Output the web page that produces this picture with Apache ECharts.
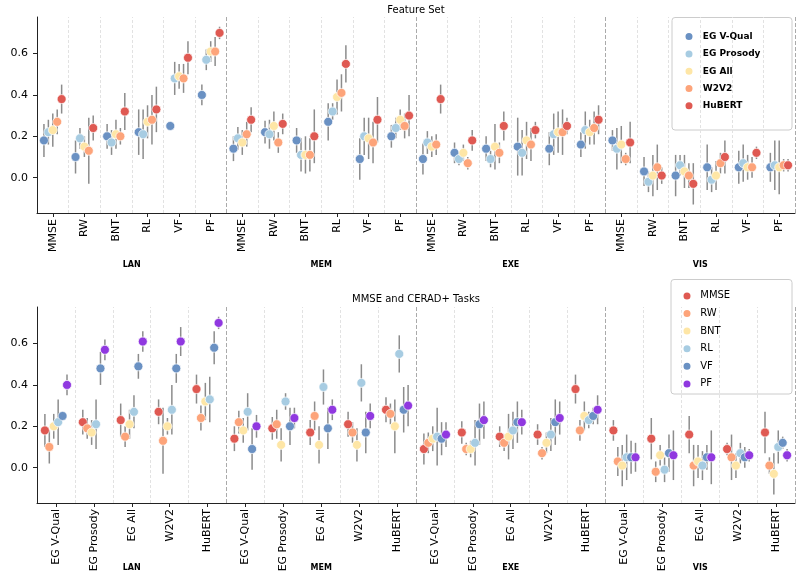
<!DOCTYPE html>
<html><head><meta charset="utf-8">
<script src="https://cdn.jsdelivr.net/npm/echarts@6/dist/echarts.min.js"></script>
<style>html,body{margin:0;padding:0;background:#fff}#c{width:802px;height:578px}</style>
</head><body><div id="c"></div>
<script>
// ---------------- DATA ----------------
const domains = ['LAN', 'MEM', 'EXE', 'VIS'];
const tasks = ['MMSE', 'RW', 'BNT', 'RL', 'VF', 'PF'];
const featureSets = ['EG V-Qual', 'EG Prosody', 'EG All', 'W2V2', 'HuBERT'];
const yTicks = [0, 0.2, 0.4, 0.6];
const titleTop = 'Feature Set';
const titleBottom = 'MMSE and CERAD+ Tasks';
const yName = 'Pearson r (mean \u00b1 std)';

// mean Pearson r per feature set; order: LAN(MMSE,RW,BNT,RL,VF,PF), MEM(...), EXE(...), VIS(...)
const meanVQual   = [0.18,0.10,0.20,0.22,0.25,0.40, 0.14,0.22,0.18,0.27,0.09,0.20, 0.09,0.12,0.14,0.15,0.14,0.16, 0.18,0.03,0.01,0.05,0.05,0.05];
const meanProsody = [0.22,0.19,0.17,0.21,0.48,0.57, 0.19,0.21,0.11,0.32,0.20,0.24, 0.17,0.09,0.09,0.12,0.21,0.23, 0.14,-0.02,0.06,-0.01,0.07,0.06];
const meanAll     = [0.23,0.15,0.21,0.27,0.49,0.61, 0.17,0.25,0.11,0.39,0.19,0.28, 0.15,0.12,0.15,0.18,0.22,0.22, 0.16,0.01,0.03,0.01,0.05,0.05];
const meanW2V2    = [0.27,0.13,0.20,0.28,0.48,0.61, 0.21,0.17,0.11,0.41,0.17,0.25, 0.16,0.07,0.12,0.16,0.22,0.24, 0.09,0.05,0.01,0.07,0.05,0.06];
const meanHuBERT  = [0.38,0.24,0.32,0.33,0.58,0.70, 0.28,0.26,0.20,0.55,0.28,0.30, 0.38,0.18,0.25,0.23,0.25,0.28, 0.17,0.01,-0.03,0.10,0.12,0.06];

// std per feature set, same order
const stdVQual   = [0.08,0.08,0.06,0.11,0.02,0.05, 0.06,0.055,0.06,0.09,0.10,0.055, 0.075,0.05,0.06,0.14,0.08,0.06, 0.05,0.07,0.10,0.11,0.08,0.07];
const stdProsody = [0.06,0.05,0.06,0.12,0.08,0.05, 0.055,0.07,0.08,0.04,0.09,0.05, 0.055,0.03,0.04,0.11,0.10,0.09, 0.10,0.05,0.05,0.06,0.09,0.12];
const stdAll     = [0.08,0.05,0.07,0.08,0.06,0.05, 0.06,0.07,0.09,0.085,0.10,0.05, 0.05,0.04,0.11,0.09,0.10,0.06, 0.09,0.10,0.08,0.07,0.06,0.13];
const stdW2V2    = [0.06,0.16,0.04,0.12,0.07,0.07, 0.06,0.05,0.08,0.09,0.10,0.06, 0.05,0.03,0.05,0.08,0.11,0.08, 0.03,0.11,0.06,0.05,0.05,0.03];
const stdHuBERT  = [0.07,0.06,0.09,0.11,0.08,0.03, 0.06,0.05,0.13,0.09,0.11,0.10, 0.07,0.05,0.07,0.04,0.04,0.07, 0.10,0.04,0.10,0.08,0.03,0.03];

// ---------------- STYLE ----------------
const means = [meanVQual, meanProsody, meanAll, meanW2V2, meanHuBERT];
const stds = [stdVQual, stdProsody, stdAll, stdW2V2, stdHuBERT];
const featureColors = ['#6a91c3', '#a7cce2', '#fee6a6', '#fda47a', '#df5952'];
const taskColors = ['#df5952', '#fda47a', '#fee6a6', '#a7cce2', '#6a91c3', '#9038e0'];
const FONT = 'DejaVu Sans';
const G = { left: 37, width: 758, top1: 17, top2: 307, height: 196 };
const Y_MIN = -0.171, Y_MAX = 0.777;
const DODGE = 0.7;
const dodge = (k, n) => (k - (n - 1) / 2) * DODGE / n;

const chart = echarts.init(document.getElementById('c'), null, { renderer: 'canvas' });

const nTop = domains.length * tasks.length;
const nBot = domains.length * featureSets.length;

const topCats = [];
domains.forEach(() => tasks.forEach(t => topCats.push(t)));
const botCats = [];
domains.forEach(() => featureSets.forEach(f => botCats.push(f)));

function errRender(params, api) {
  const p1 = api.coord([api.value(0), api.value(1)]);
  const p2 = api.coord([api.value(0), api.value(2)]);
  return { type: 'line', shape: { x1: p1[0], y1: p1[1], x2: p2[0], y2: p2[1] },
           style: { stroke: '#8c8c8c', lineWidth: 1.5 } };
}

const series = [];
// top: feature sets as hue
featureSets.forEach((f, k) => {
  const off = dodge(k, featureSets.length);
  const pts = [], errs = [];
  for (let i = 0; i < nTop; i++) {
    const m = means[k][i], s = stds[k][i];
    pts.push([i + off, m]);
    errs.push([i + off, m - s, m + s]);
  }
  series.push({ type: 'custom', name: f + ' err', xAxisIndex: 1, yAxisIndex: 0, renderItem: errRender,
                data: errs, encode: { x: 0, y: [1, 2] }, z: 2, silent: true });
  series.push({ type: 'scatter', name: f, xAxisIndex: 1, yAxisIndex: 0, data: pts, symbol: 'circle', symbolSize: 9,
                itemStyle: { color: featureColors[k], borderColor: '#fff', borderWidth: 0.7, opacity: 1 }, z: 3 });
});
// bottom: tasks as hue
tasks.forEach((t, k) => {
  const off = dodge(k, tasks.length);
  const pts = [], errs = [];
  domains.forEach((d, di) => {
    featureSets.forEach((f, fi) => {
      const x = di * featureSets.length + fi + off;
      const m = means[fi][di * tasks.length + k], s = stds[fi][di * tasks.length + k];
      pts.push([x, m]);
      errs.push([x, m - s, m + s]);
    });
  });
  series.push({ type: 'custom', name: t + ' err', xAxisIndex: 3, yAxisIndex: 1, renderItem: errRender,
                data: errs, encode: { x: 0, y: [1, 2] }, z: 2, silent: true });
  series.push({ type: 'scatter', name: t, xAxisIndex: 3, yAxisIndex: 1, data: pts, symbol: 'circle', symbolSize: 9,
                itemStyle: { color: taskColors[k], borderColor: '#fff', borderWidth: 0.7, opacity: 1 }, z: 3 });
});

// separators: light between categories, darker dashed between domains
function minorLines(per) {
  const out = [];
  for (let i = 1; i < domains.length * per; i++) if (i % per !== 0) out.push({ xAxis: i - 0.5 });
  return out;
}
function domainLines(per) {
  return domains.map((d, i) => ({ xAxis: (i + 1) * per - 0.5 }));
}
function sepSeries(xi, yi, per) {
  return [
    { type: 'line', name: '_minor', xAxisIndex: xi, yAxisIndex: yi, data: [], z: 1,
      markLine: { symbol: ['none', 'none'], silent: true, label: { show: false }, animation: false,
                  lineStyle: { type: [3, 2], color: '#e2e2e2', width: 1 }, data: minorLines(per) } },
    { type: 'line', name: '_major', xAxisIndex: xi, yAxisIndex: yi, data: [], z: 1,
      markLine: { symbol: ['none', 'none'], silent: true, label: { show: false }, animation: false,
                  lineStyle: { type: [4, 2], color: '#aaaaaa', width: 1 }, data: domainLines(per) } }
  ];
}
series.push(...sepSeries(1, 0, tasks.length));
series.push(...sepSeries(3, 1, featureSets.length));

function catAxis(gi, cats) {
  return {
    type: 'category', gridIndex: gi, data: cats, boundaryGap: true,
    axisLine: { show: true, onZero: false, lineStyle: { color: '#222', width: 1 } },
    axisTick: { show: true, alignWithLabel: true, length: 4, lineStyle: { color: '#222' }, interval: 0 },
    axisLabel: { rotate: 90, interval: 0, fontSize: 11, color: '#000', margin: 6, fontFamily: FONT },
    splitLine: { show: false }
  };
}
function valXAxis(gi, n) {
  return { type: 'value', gridIndex: gi, min: -0.5, max: n - 0.5, show: false };
}
function yAxis(gi) {
  return {
    type: 'value', gridIndex: gi, min: Y_MIN, max: Y_MAX,
    name: yName, nameLocation: 'middle', nameGap: 21, nameRotate: 90,
    nameTextStyle: { fontSize: 10, color: '#000', fontFamily: FONT },
    axisLine: { show: true, onZero: false, lineStyle: { color: '#222', width: 1 } },
    axisTick: { show: true, length: 4, customValues: yTicks, lineStyle: { color: '#222' } },
    axisLabel: { customValues: yTicks, fontSize: 11, color: '#000', margin: 9, fontFamily: FONT,
                 formatter: v => v.toFixed(1) },
    splitLine: { show: false }
  };
}

const graphics = [];
const cx = G.left + G.width / 2;
graphics.push({ type: 'text', x: cx, y: 10, style: { text: titleTop, fontSize: 10, fill: '#000', fontFamily: FONT, textAlign: 'center', textVerticalAlign: 'middle' } });
graphics.push({ type: 'text', x: cx, y: 299, style: { text: titleBottom, fontSize: 10, fill: '#000', fontFamily: FONT, textAlign: 'center', textVerticalAlign: 'middle' } });
domains.forEach((d, i) => {
  const x = G.left + (i + 0.5) * G.width / domains.length;
  graphics.push({ type: 'text', x: x, y: 265, style: { text: d, fontSize: 8, fontWeight: 'bold', fill: '#000', fontFamily: FONT, textAlign: 'center', textVerticalAlign: 'middle' } });
  graphics.push({ type: 'text', x: x, y: 568, style: { text: d, fontSize: 8, fontWeight: 'bold', fill: '#000', fontFamily: FONT, textAlign: 'center', textVerticalAlign: 'middle' } });
});
graphics.push({ type: 'rect', z: 5, shape: { x: 672, y: 17.5, width: 120, height: 112.5, r: 3 }, style: { fill: 'rgba(255,255,255,0.8)', stroke: '#cccccc', lineWidth: 1 } });
graphics.push({ type: 'rect', z: 5, shape: { x: 671, y: 279.5, width: 121, height: 114.5, r: 3 }, style: { fill: 'rgba(255,255,255,0.8)', stroke: '#cccccc', lineWidth: 1 } });

const option = {
  animation: false,
  textStyle: { fontFamily: FONT },
  grid: [
    { left: G.left, top: G.top1, width: G.width, height: G.height, containLabel: false, outerBoundsMode: 'none' },
    { left: G.left, top: G.top2, width: G.width, height: G.height, containLabel: false, outerBoundsMode: 'none' }
  ],
  xAxis: [catAxis(0, topCats), valXAxis(0, nTop), catAxis(1, botCats), valXAxis(1, nBot)],
  yAxis: [yAxis(0), yAxis(1)],
  legend: [
    { data: featureSets, orient: 'vertical', left: 683.5, top: 31.1, padding: 0, itemWidth: 17.5, itemHeight: 9, itemGap: 6.3, z: 10,
      icon: 'circle', textStyle: { fontSize: 9, fontWeight: 'bold', color: '#000', lineHeight: 10, fontFamily: FONT } },
    { data: tasks, orient: 'vertical', left: 681.5, top: 290.4, padding: 0, itemWidth: 16.5, itemHeight: 9, itemGap: 6.6, z: 10,
      icon: 'circle', textStyle: { fontSize: 10, color: '#000', lineHeight: 10, fontFamily: FONT } }
  ],
  graphic: graphics,
  series: series
};
chart.setOption(option);
</script>
</body></html>
